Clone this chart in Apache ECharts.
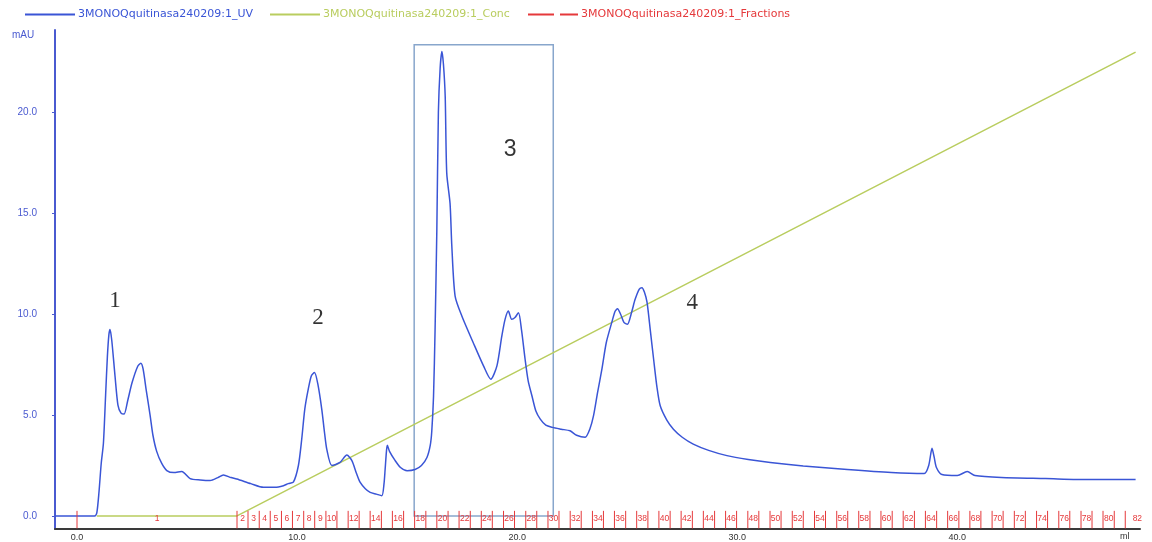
<!DOCTYPE html>
<html>
<head>
<meta charset="utf-8">
<script src="https://cdn.jsdelivr.net/npm/echarts@6/dist/echarts.min.js"></script>
<style>html,body{margin:0;padding:0;background:#fff;}#c{width:1152px;height:542px;}</style>
</head>
<body>
<div id="c"></div>
<script>
// ---- data ----
const uvName = '3MONOQquitinasa240209:1_UV';
const concName = '3MONOQquitinasa240209:1_Conc';
const fracName = '3MONOQquitinasa240209:1_Fractions';

const uvMl = [-1.0,0.8,0.9,1.0,1.1,1.2,1.3,1.38,1.45,1.5,1.58,1.73,1.86,2.0,2.14,2.3,2.5,2.75,2.9,3.0,3.15,3.32,3.45,3.62,3.85,4.08,4.4,4.76,5.14,5.6,6.05,6.4,6.65,7.0,7.26,7.9,8.47,9.0,9.38,9.6,9.83,10.06,10.21,10.35,10.51,10.65,10.79,10.95,11.12,11.25,11.35,11.58,11.95,12.26,12.49,12.7,12.86,13.1,13.32,13.6,13.85,13.95,14.0,14.06,14.1,14.2,14.45,14.7,15.0,15.36,15.65,15.9,16.05,16.12,16.2,16.27,16.35,16.42,16.5,16.58,16.65,16.73,16.8,16.95,17.03,17.18,17.49,18.0,18.47,18.8,19.08,19.3,19.45,19.6,19.75,19.9,20.06,20.2,20.36,20.5,20.67,20.85,21.05,21.3,21.6,22.0,22.4,22.7,23.09,23.3,23.47,23.65,23.85,24.05,24.3,24.45,24.56,24.7,24.85,25.01,25.2,25.36,25.55,25.67,25.78,25.9,26.05,26.2,26.35,26.5,26.8,27.1,27.5,28.0,28.7,29.53,30.5,31.5,33.0,35.0,37.0,38.5,38.7,38.85,38.95,39.05,39.3,40.0,40.45,40.8,42.0,44.0,46.0,48.1];
const uvMau = [0,0,0.15,1.2,2.6,3.6,6.0,7.9,9.0,9.25,8.7,6.9,5.5,5.1,5.05,5.7,6.6,7.4,7.57,7.3,6.2,5.0,4.0,3.2,2.6,2.25,2.15,2.2,1.85,1.78,1.75,1.9,2.03,1.9,1.83,1.6,1.42,1.42,1.5,1.6,1.67,2.5,3.8,5.3,6.3,6.95,7.11,6.5,5.3,4.1,3.3,2.5,2.65,3.02,2.74,2.1,1.67,1.35,1.17,1.08,1.0,1.6,2.3,3.2,3.5,3.2,2.75,2.4,2.24,2.3,2.5,2.9,3.5,4.2,5.95,9.25,14.2,20.0,22.2,23.03,22.4,20.8,17.0,15.5,13.4,10.9,9.9,8.6,7.44,6.78,7.44,8.9,9.75,10.16,9.75,9.84,10.08,9.2,7.77,6.7,5.96,5.2,4.8,4.5,4.39,4.3,4.22,4.0,3.9,4.3,4.97,6.1,7.28,8.6,9.6,10.15,10.28,10.0,9.6,9.5,10.1,10.74,11.25,11.32,11.1,10.6,9.2,7.77,6.4,5.46,4.75,4.3,3.9,3.56,3.25,2.99,2.8,2.65,2.48,2.3,2.15,2.1,2.5,3.35,2.9,2.4,2.05,2.0,2.2,2.0,1.9,1.85,1.8,1.8];

const concMl = [0.9, 7.27, 48.1];
const concVal = [0, 0, 23.0];

const fractionStarts = [0.0,7.27,7.77,8.28,8.78,9.29,9.79,10.30,10.80,11.31,11.81,12.32,12.82,13.32,13.83,14.33,14.84,15.34,15.85,16.35,16.86,17.36,17.87,18.37,18.87,19.38,19.88,20.39,20.89,21.40,21.90,22.41,22.91,23.42,23.92,24.42,24.93,25.43,25.94,26.44,26.95,27.45,27.96,28.46,28.97,29.47,29.97,30.48,30.98,31.49,31.99,32.50,33.00,33.51,34.01,34.52,35.02,35.52,36.03,36.53,37.04,37.54,38.05,38.55,39.06,39.56,40.07,40.57,41.07,41.58,42.08,42.59,43.09,43.60,44.10,44.61,45.11,45.62,46.12,46.62,47.13,47.63];
const fractionLastEnd = 48.73;
const fractionLabels = ['1','2','3','4','5','6','7','8','9','10','','12','','14','','16','','18','','20','','22','','24','','26','','28','','30','','32','','34','','36','','38','','40','','42','','44','','46','','48','','50','','52','','54','','56','','58','','60','','62','','64','','66','','68','','70','','72','','74','','76','','78','','80','','82'];

const yTicks = [0, 5, 10, 15, 20];
const xTicks = [0, 10, 20, 30, 40];

const annoText = ['1', '2', '3', '4'];
const annoMl = [1.73, 10.95, 19.68, 27.95];
const annoMau = [10.64, 9.8, 18.17, 10.54];
const annoFont = ['Liberation Serif', 'Liberation Serif', 'Liberation Sans', 'Liberation Serif'];

const boxMl = [15.32, 21.64];
const boxMau = [0.0, 23.37];

// ---- styles ----
const UV_COLOR = '#3a55d6';
const CONC_COLOR = '#b9cd5f';
const FRAC_COLOR = '#e5393b';
const AXIS_BLUE = '#4a5ad0';

const chart = echarts.init(document.getElementById('c'), null, {renderer: 'canvas'});

const uvData = uvMl.map((x, i) => [x, uvMau[i]]);
const concData = concMl.map((x, i) => [x, concVal[i]]);
const fracData = fractionStarts.map((s, i) => [s, i < fractionStarts.length - 1 ? fractionStarts[i + 1] : fractionLastEnd]);
const annoData = annoMl.map((x, i) => ({value: [x, annoMau[i]], name: annoText[i], label: {fontFamily: annoFont[i]}}));

function legendOf(name, left, color, icon) {
  return {
    left: left, top: 4, itemWidth: 50, itemHeight: 2, itemGap: 0,
    icon: icon, selectedMode: false,
    data: [{name: name, textStyle: {color: color}}],
    textStyle: {fontFamily: 'DejaVu Sans', fontSize: 11, padding: [0, 0, 0, -2]}
  };
}

const option = {
  animation: false,
  backgroundColor: '#ffffff',
  legend: [
    legendOf(uvName, 20, UV_COLOR, 'path://M0,0H50V2H0Z'),
    legendOf(concName, 265, CONC_COLOR, 'path://M0,0H50V2H0Z'),
    legendOf(fracName, 523, FRAC_COLOR, 'path://M0,0H26V2H0Z M32,0H50V2H32Z')
  ],
  grid: {left: 55, right: 12, top: 30, bottom: 12, containLabel: false},
  xAxis: {
    type: 'value', min: -1.0, max: 48.3,
    axisLine: {onZero: false, lineStyle: {color: '#3a3a3a', width: 2}},
    axisTick: {show: false},
    splitLine: {show: false},
    axisLabel: {customValues: xTicks, formatter: v => v.toFixed(1), color: '#333', fontSize: 9, margin: 4, fontFamily: 'Liberation Sans'}
  },
  yAxis: {
    type: 'value', min: -0.65, max: 24.1,
    axisLine: {show: true, onZero: false, lineStyle: {color: AXIS_BLUE, width: 2}},
    axisTick: {show: true, length: 3, customValues: yTicks, lineStyle: {color: AXIS_BLUE}},
    splitLine: {show: false},
    axisLabel: {customValues: yTicks, formatter: v => v.toFixed(1), color: AXIS_BLUE, fontSize: 10, margin: 18, fontFamily: 'Liberation Sans'}
  },
  graphic: [
    {type: 'text', left: 12, top: 30, style: {text: 'mAU', fill: AXIS_BLUE, font: '10px "Liberation Sans"'}},
    {type: 'text', left: 1120, top: 532, style: {text: 'ml', fill: '#333', font: '9px "Liberation Sans"'}}
  ],
  series: [
    {
      name: uvName, type: 'line', data: uvData, showSymbol: false, symbol: 'none',
      smooth: 0.25, color: UV_COLOR,
      lineStyle: {color: UV_COLOR, width: 1.5}, z: 3,
      markArea: {
        silent: true,
        itemStyle: {color: 'rgba(0,0,0,0)', borderColor: '#88a6cc', borderWidth: 1.5},
        data: [[{coord: [boxMl[0], boxMau[0]]}, {coord: [boxMl[1], boxMau[1]]}]]
      }
    },
    {
      name: concName, type: 'line', data: concData, showSymbol: false, symbol: 'none',
      color: CONC_COLOR, lineStyle: {color: CONC_COLOR, width: 1.5}, z: 2
    },
    {
      name: fracName, type: 'custom', color: FRAC_COLOR, z: 4,
      data: fracData,
      renderItem: function (params, api) {
        const s = api.value(0), e = api.value(1);
        const p1 = api.coord([s, 0.25]);
        const p2 = api.coord([s, -0.62]);
        const mid = api.coord([(s + e) / 2, -0.13]);
        return {
          type: 'group',
          children: [
            {type: 'line', shape: {x1: p1[0], y1: p1[1], x2: p2[0], y2: p2[1]}, style: {stroke: FRAC_COLOR, lineWidth: 1}},
            {type: 'text', x: mid[0], y: mid[1], style: {text: fractionLabels[params.dataIndex], fill: FRAC_COLOR, font: '8.5px "Liberation Sans"', align: 'center', verticalAlign: 'middle'}}
          ]
        };
      }
    },
    {
      name: 'annotations', type: 'scatter', data: annoData, symbolSize: 0, z: 5,
      label: {show: true, position: 'inside', formatter: p => p.name, color: '#000', fontSize: 23}
    }
  ]
};
chart.setOption(option);
</script>
</body>
</html>
